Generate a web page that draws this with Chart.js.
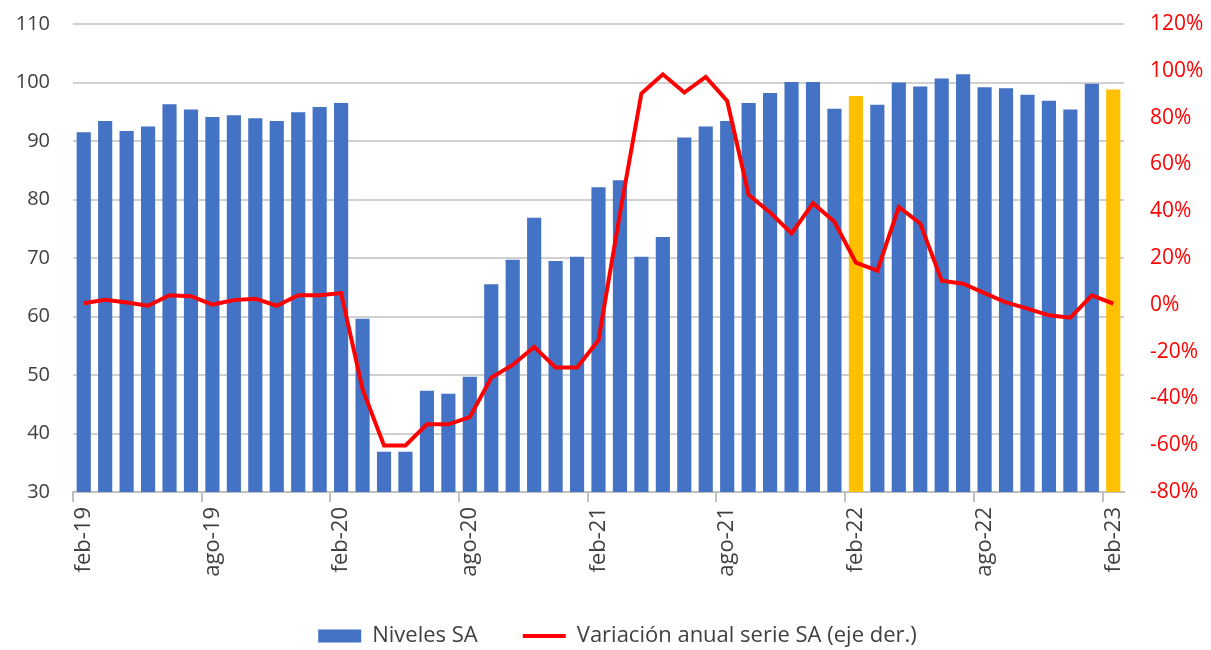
<!DOCTYPE html>
<html>
<head>
<meta charset="utf-8">
<script src="https://cdn.jsdelivr.net/npm/chart.js@4/dist/chart.umd.min.js"></script>
<style>
  html, body { margin: 0; padding: 0; background: #fff; }
  #wrap { width: 1211px; height: 650px; }
</style>
</head>
<body>
<div id="wrap"><canvas id="chart" width="1211" height="650"></canvas></div>
<script>
// meses feb-19 .. feb-23
const meses = [
  "feb-19","mar-19","abr-19","may-19","jun-19","jul-19","ago-19","sep-19","oct-19","nov-19","dic-19","ene-20",
  "feb-20","mar-20","abr-20","may-20","jun-20","jul-20","ago-20","sep-20","oct-20","nov-20","dic-20","ene-21",
  "feb-21","mar-21","abr-21","may-21","jun-21","jul-21","ago-21","sep-21","oct-21","nov-21","dic-21","ene-22",
  "feb-22","mar-22","abr-22","may-22","jun-22","jul-22","ago-22","sep-22","oct-22","nov-22","dic-22","ene-23",
  "feb-23"
];

// niveles desestacionalizados (eje izq.)
const nivelesSA = [
  91.5, 93.4, 91.7, 92.5, 96.3, 95.4, 94.1, 94.4, 93.9, 93.4, 94.9, 95.8,
  96.5, 59.6, 36.9, 36.9, 47.3, 46.8, 49.7, 65.5, 69.7, 76.9, 69.5, 70.2,
  82.1, 83.3, 70.2, 73.6, 90.6, 92.5, 93.4, 96.5, 98.2, 100.1, 100.1, 95.5,
  97.7, 96.2, 100.0, 99.3, 100.7, 101.4, 99.2, 99.0, 97.9, 96.9, 95.4, 99.8,
  98.8
];

// variación anual en % (eje der.)
const variacionAnual = [
  0.7, 2.1, 1.0, -0.4, 4.1, 3.7, 0.1, 2.0, 2.6, -0.4, 4.1, 4.1,
  5.0, -36.1, -60.1, -60.1, -51.1, -51.1, -48.0, -31.1, -25.7, -18.0, -26.8, -26.8,
  -15.1, 39.0, 90.3, 98.5, 90.7, 97.4, 87.1, 47.0, 39.5, 30.5, 43.4, 35.5,
  18.0, 14.6, 41.8, 34.8, 10.3, 9.0, 5.0, 1.0, -1.6, -4.5, -5.5, 4.0,
  0.5
];

// meses resaltados en amarillo
const destacados = ["feb-22", "feb-23"];

const ejeIzq = { min: 30, max: 110, step: 10 };
const ejeDer = { min: -80, max: 120, step: 20 };

const AZUL = "#4472c4";
const AMARILLO = "#ffc000";
const ROJO = "#ff0000";
const GRIS = "#404040";
const FUENTE = "'Open Sans', 'Noto Sans', sans-serif";

const coloresBarras = meses.map(m => destacados.includes(m) ? AMARILLO : AZUL);

// los ejes verticales no reservan espacio extra para la mitad de la etiqueta
const sinRelleno = (s, ancho) => {
  s.width = ancho;
  s.paddingTop = 0;
  s.paddingBottom = 0;
};

const ctx = document.getElementById("chart").getContext("2d");

new Chart(ctx, {
  type: "bar",
  data: {
    labels: meses,
    datasets: [
      {
        type: "bar",
        label: "Niveles SA",
        data: nivelesSA,
        backgroundColor: coloresBarras,
        borderWidth: 0,
        categoryPercentage: 1.0,
        barPercentage: 0.66,
        yAxisID: "y",
        order: 1,
      },
      {
        type: "line",
        label: "Variación anual serie SA (eje der.)",
        data: variacionAnual,
        borderColor: ROJO,
        backgroundColor: ROJO,
        borderWidth: 4,
        pointRadius: 0,
        tension: 0,
        yAxisID: "y1",
        order: 0,
      },
    ],
  },
  options: {
    responsive: false,
    animation: false,
    // desplaza la leyenda un poco a la derecha sin mover el área del gráfico
    layout: { padding: { top: 24, left: 12, right: -12, bottom: -7 } },
    scales: {
      x: {
        offset: true,
        grid: {
          offset: true,
          drawOnChartArea: false,
          drawTicks: true,
          tickLength: 10,
          lineWidth: 2,
          color: c => (c.index !== undefined && c.index % 6 === 0) ? "#c0c0c0" : "rgba(0,0,0,0)",
        },
        border: { display: true, color: "#c0c0c0", width: 2 },
        ticks: {
          autoSkip: false,
          minRotation: 90,
          maxRotation: 90,
          padding: 5,
          color: GRIS,
          font: { family: FUENTE, size: 22 },
          callback: (v, i) => i % 6 === 0 ? meses[i] : "",
        },
        afterFit: s => {
          s.height = 88;
          s.paddingLeft = 0;
          s.paddingRight = 0;
        },
      },
      y: {
        position: "left",
        min: ejeIzq.min,
        max: ejeIzq.max,
        grid: { color: "#d0d0d0", lineWidth: 2, drawTicks: false },
        border: { display: false },
        ticks: {
          stepSize: ejeIzq.step,
          padding: 23,
          color: GRIS,
          font: { family: FUENTE, size: 20 },
        },
        afterFit: s => sinRelleno(s, 61),
      },
      y1: {
        position: "right",
        min: ejeDer.min,
        max: ejeDer.max,
        grid: { drawOnChartArea: false, drawTicks: false },
        border: { display: false },
        ticks: {
          stepSize: ejeDer.step,
          padding: 26,
          color: ROJO,
          font: { family: FUENTE, size: 21 },
          callback: v => v + "%",
        },
        afterFit: s => sinRelleno(s, 99),
      },
    },
    plugins: {
      tooltip: { enabled: false },
      legend: {
        position: "bottom",
        labels: {
          usePointStyle: true,
          pointStyleWidth: 43,
          boxHeight: 13,
          padding: 45,
          color: GRIS,
          font: { family: FUENTE, size: 22 },
          sort: (a, b) => a.datasetIndex - b.datasetIndex,
          generateLabels: chart => {
            const items = Chart.defaults.plugins.legend.labels.generateLabels(chart);
            items.forEach(it => {
              if (it.datasetIndex === 0) {
                it.pointStyle = "rect";
                it.fillStyle = AZUL;
                it.strokeStyle = AZUL;
                it.lineWidth = 0;
              } else {
                it.pointStyle = "line";
                it.strokeStyle = ROJO;
                it.lineWidth = 4;
              }
            });
            return items;
          },
        },
      },
    },
  },
});
</script>
</body>
</html>
